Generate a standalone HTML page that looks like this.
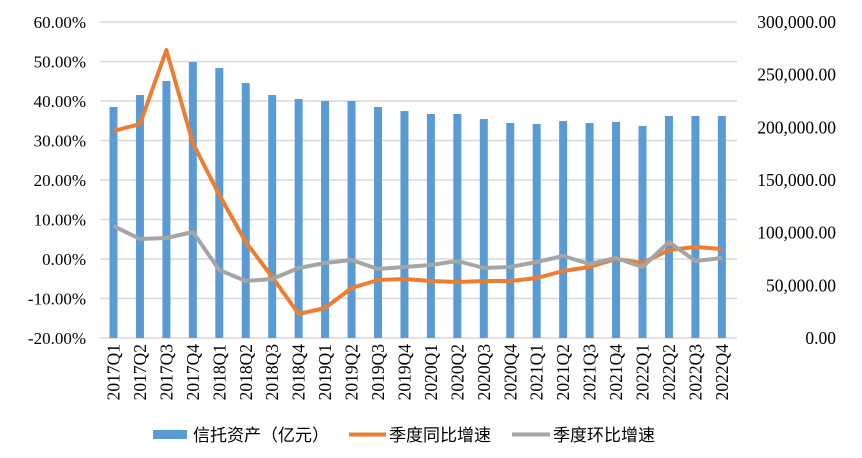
<!DOCTYPE html>
<html><head><meta charset="utf-8"><style>body{margin:0;background:#fff}svg{display:block}</style></head><body>
<svg width="862" height="458" xmlns="http://www.w3.org/2000/svg" font-family="'Liberation Serif',serif" font-size="17" fill="#000">
<g stroke="#d9d9d9" stroke-width="1.5">
<line x1="100" x2="737" y1="22" y2="22"/><line x1="100" x2="737" y1="61.5" y2="61.5"/><line x1="100" x2="737" y1="101" y2="101"/><line x1="100" x2="737" y1="140.5" y2="140.5"/><line x1="100" x2="737" y1="180" y2="180"/><line x1="100" x2="737" y1="219.5" y2="219.5"/><line x1="100" x2="737" y1="259" y2="259"/><line x1="100" x2="737" y1="298.5" y2="298.5"/><line x1="100" x2="737" y1="338" y2="338"/>
</g>
<g text-anchor="end">
<text x="86" y="28">60.00%</text><text x="86" y="67.5">50.00%</text><text x="86" y="107">40.00%</text><text x="86" y="146.5">30.00%</text><text x="86" y="186">20.00%</text><text x="86" y="225.5">10.00%</text><text x="86" y="265">0.00%</text><text x="86" y="304.5">-10.00%</text><text x="86" y="344">-20.00%</text>
</g>
<g text-anchor="end" font-size="17.5">
<text x="836" y="28">300,000.00</text><text x="836" y="80.7">250,000.00</text><text x="836" y="133.3">200,000.00</text><text x="836" y="186">150,000.00</text><text x="836" y="238.7">100,000.00</text><text x="836" y="291.3">50,000.00</text><text x="836" y="344">0.00</text>
</g>
<g fill="#5b9bd5" id="bars"></g>
<polyline id="o" fill="none" stroke="#ed7d31" stroke-width="4" stroke-linejoin="round"/>
<polyline id="g" fill="none" stroke="#a5a5a5" stroke-width="4" stroke-linejoin="round"/>
<g id="labels" font-size="17.5"></g>
<rect x="153" y="430" width="34" height="9" fill="#5b9bd5"/>
<line x1="349" x2="386" y1="434.5" y2="434.5" stroke="#ed7d31" stroke-width="4"/>
<line x1="512" x2="550" y1="434.5" y2="434.5" stroke="#a5a5a5" stroke-width="4"/>
<g font-family="'Liberation Sans','Noto Sans CJK SC',sans-serif" font-size="17">
<text x="193" y="441">信托资产（亿元）</text><text x="389" y="441">季度同比增速</text><text x="553" y="441">季度环比增速</text>
</g>
</svg>
<script>
var bt=[107,95,81,62,68,83,95,99,101,101,107,111,114,114,119,123,124,121,123,122,126,116,116,116];
var o=[131,124,50,143,195,242,277,314,308,288,280,279,281,282,281,281,278,271,267,259,263,250,247,249];
var g=[226,239,238,232,270,281,279,268,263,260,269,267,265,261,268,267,262,256,264,258,267,242,261,258];
var ns="http://www.w3.org/2000/svg",B=document.getElementById("bars"),L=document.getElementById("labels");
var po=[],pg=[];
for(var i=0;i<24;i++){var cx=113.5+i*26.45;
var r=document.createElementNS(ns,"rect");r.setAttribute("x",cx-4);r.setAttribute("y",bt[i]);r.setAttribute("width",8);r.setAttribute("height",338-bt[i]);B.appendChild(r);
po.push(cx+","+o[i]);pg.push(cx+","+g[i]);
var y=2017+Math.floor(i/4),q=i%4+1;var t=document.createElementNS(ns,"text");t.textContent=y+"Q"+q;t.setAttribute("text-anchor","end");t.setAttribute("transform","translate("+(cx+6)+",344) rotate(-90)");L.appendChild(t);}
document.getElementById("o").setAttribute("points",po.join(" "));
document.getElementById("g").setAttribute("points",pg.join(" "));
</script>
</body></html>
